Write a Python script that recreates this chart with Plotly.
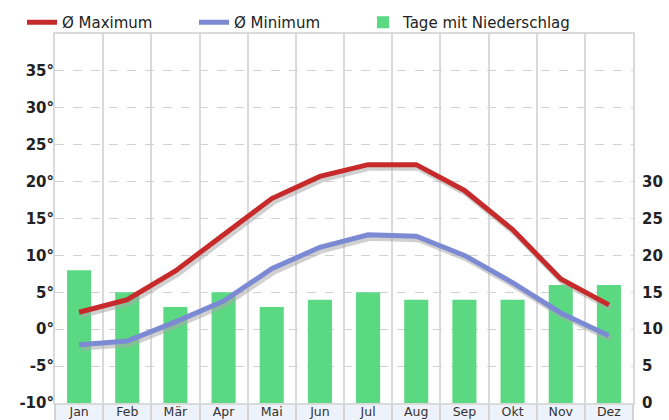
import plotly.graph_objects as go

months = ["Jan", "Feb", "Mär", "Apr", "Mai", "Jun", "Jul", "Aug", "Sep", "Okt", "Nov", "Dez"]
temp_max = [2.3, 4.0, 7.9, 12.7, 17.7, 20.7, 22.3, 22.3, 18.8, 13.5, 6.8, 3.3]
temp_min = [-2.1, -1.6, 1.0, 3.8, 8.2, 11.1, 12.8, 12.6, 10.0, 6.3, 2.2, -0.9]
rain_days = [18, 15, 13, 15, 13, 14, 15, 14, 14, 14, 16, 16]

left_ticks = [-10, -5, 0, 5, 10, 15, 20, 25, 30, 35]
left_labels = ["-10°", "-5°", "0°", "5°", "10°", "15°", "20°", "25°", "30°", "35°"]
right_ticks = [0, 5, 10, 15, 20, 25, 30]
right_labels = ["0", "5", "10", "15", "20", "25", "30"]

W, H = 669, 420
ML, MR, MT, MB = 55, 36, 34, 17
PW, PH = W - ML - MR, H - MT - MB

TEMP_RANGE = [-10, 40]
RAIN_RANGE = [0, 50]
X_RANGE = [-0.5, 11.5]

# shadow offset (px) converted into axis units
sdx = 2.0 * (X_RANGE[1] - X_RANGE[0]) / PW
sdy = 3.0 * (TEMP_RANGE[1] - TEMP_RANGE[0]) / PH

RED = "#c62a2a"
BLUE = "#7c8ad4"
GREEN = "#5ad982"
GRID = "#dadada"
SHADOW = "rgba(170,170,170,0.55)"

fig = go.Figure()

fig.add_trace(go.Bar(
    x=months, y=rain_days, name="Tage mit Niederschlag",
    marker=dict(color=GREEN, line=dict(width=0)), width=0.5,
    xaxis="x", yaxis="y", legend="legend3", hoverinfo="skip",
))

for vals in (temp_max, temp_min):
    fig.add_trace(go.Scatter(
        x=months, y=vals, mode="lines", showlegend=False,
        line=dict(color=SHADOW, width=6), xaxis="x2", yaxis="y4", hoverinfo="skip",
    ))

fig.add_trace(go.Scatter(
    x=months, y=temp_max, mode="lines", name="Ø Maximum",
    line=dict(color=RED, width=5), xaxis="x3", yaxis="y5", legend="legend",
))
fig.add_trace(go.Scatter(
    x=months, y=temp_min, mode="lines", name="Ø Minimum",
    line=dict(color=BLUE, width=5), xaxis="x3", yaxis="y5", legend="legend2",
))

tickfont_bold = dict(family="DejaVu Sans", size=15, color="#222222", weight="bold")
legend_font = dict(family="DejaVu Sans", size=15, color="#222222")


def legend_at(px):
    return dict(
        orientation="h", xref="container", yref="container",
        x=px / W, y=1 - 6 / H, xanchor="left", yanchor="top",
        font=legend_font, bgcolor="rgba(0,0,0,0)",
    )


fig.update_layout(
    width=W, height=H,
    margin=dict(l=ML, r=MR, t=MT, b=MB, pad=0, autoexpand=False),
    paper_bgcolor="white", plot_bgcolor="white",
    xaxis=dict(
        type="category", categoryorder="array", categoryarray=months,
        range=X_RANGE, tickson="boundaries",
        showgrid=True, gridcolor=GRID, gridwidth=2,
        ticks="", ticklabelstandoff=-4,
        showline=True, mirror=True, linecolor=GRID, linewidth=2,
        tickfont=dict(family="DejaVu Sans", size=12.5, color="#333333"),
        zeroline=False, fixedrange=True,
    ),
    xaxis2=dict(type="category", categoryorder="array", categoryarray=months,
                range=[X_RANGE[0] - sdx, X_RANGE[1] - sdx], overlaying="x",
                visible=False, showgrid=False),
    xaxis3=dict(type="category", categoryorder="array", categoryarray=months,
                range=X_RANGE, overlaying="x", showgrid=False, showline=False,
                tickson="boundaries", ticks="outside", ticklen=18, tickwidth=1.5,
                tickcolor="#d4d4d4", showticklabels=False, zeroline=False),
    yaxis=dict(
        side="right", range=RAIN_RANGE, tickmode="array",
        tickvals=right_ticks, ticktext=right_labels,
        showgrid=False, zeroline=False,
        ticks="outside", ticklen=4, tickcolor="rgba(0,0,0,0)",
        tickfont=tickfont_bold,
        showline=True, mirror=True, linecolor=GRID, linewidth=2,
    ),
    yaxis3=dict(
        overlaying="y", range=TEMP_RANGE, tickmode="array",
        tickvals=[-10, 0, 10, 20, 30], showticklabels=False,
        showgrid=True, gridcolor=GRID, gridwidth=2, zeroline=False,
    ),
    yaxis4=dict(overlaying="y", range=[TEMP_RANGE[0] + sdy, TEMP_RANGE[1] + sdy],
                visible=False, showgrid=False),
    yaxis5=dict(
        overlaying="y", side="left", range=TEMP_RANGE, tickmode="array",
        tickvals=left_ticks, ticktext=left_labels,
        showgrid=True, gridcolor="#d2d2d2", gridwidth=1, griddash="dash",
        zeroline=False, ticks="",
        tickfont=tickfont_bold,
    ),
    legend=legend_at(22),
    legend2=legend_at(194),
    legend3=legend_at(363),
    shapes=[dict(
        type="rect", xref="paper", yref="paper",
        x0=0, x1=1, y0=-0.06, y1=0,
        fillcolor="#eef2fb", line=dict(width=0), layer="below",
    )],
)

fig.write_html("out.html", config={"displayModeBar": False},
               post_script="document.body.style.margin='0';")
